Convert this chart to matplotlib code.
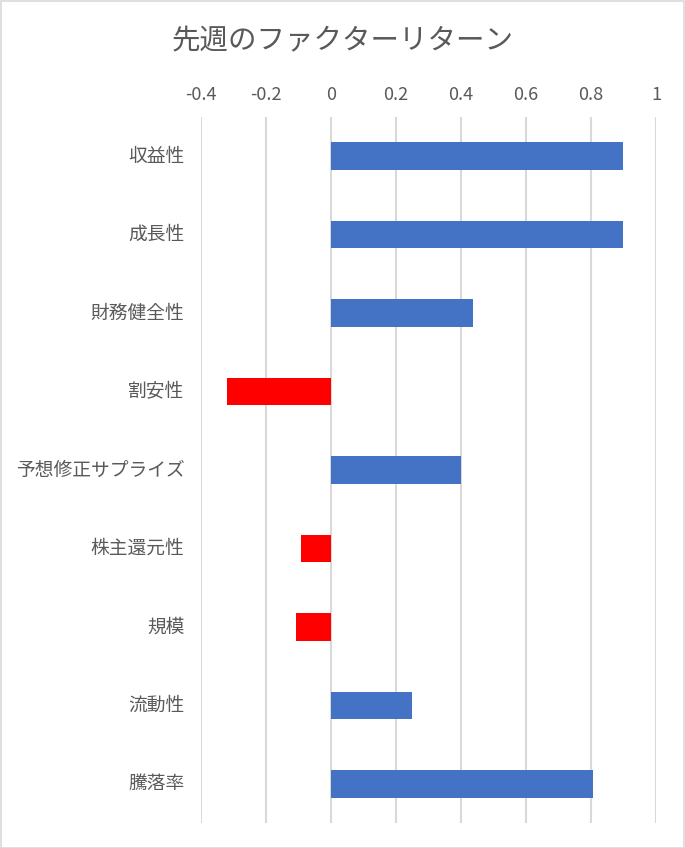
import matplotlib
matplotlib.use("Agg")
import matplotlib.pyplot as plt
from matplotlib.patches import Rectangle
from matplotlib.transforms import ScaledTranslation

plt.rcParams['font.family'] = ['Noto Sans CJK JP', 'DejaVu Sans']

categories = ["収益性", "成長性", "財務健全性", "割安性", "予想修正サプライズ",
              "株主還元性", "規模", "流動性", "騰落率"]
values = [0.898, 0.898, 0.436, -0.32, 0.399, -0.092, -0.107, 0.248, 0.805]
xticks = [-0.4, -0.2, 0, 0.2, 0.4, 0.6, 0.8, 1]
xticklabels = ["-0.4", "-0.2", "0", "0.2", "0.4", "0.6", "0.8", "1"]
title = "先週のファクターリターン"

pos_color = "#4472C4"
neg_color = "#FF0000"
text_color = "#595959"
grid_color = "#D9D9D9"

W, H = 685, 848
fig = plt.figure(figsize=(W / 100, H / 100), dpi=100)
ax = fig.add_axes([201 / W, 1 - 823 / H, 455 / W, (823 - 117) / H])

colors = [pos_color if v >= 0 else neg_color for v in values]
ypos = list(range(len(categories)))
ax.barh(ypos, values, height=0.35, color=colors, zorder=3)

ax.set_ylim(len(categories) - 0.5, -0.5)
ax.set_xlim(-0.4, 1.0)
ax.set_xticks(xticks)
ax.set_xticklabels(xticklabels)
ax.set_yticks(ypos)
ax.set_yticklabels(categories)

ax.xaxis.tick_top()
ax.tick_params(axis='x', length=0, pad=9.5, labelsize=13, labelcolor=text_color)
ax.tick_params(axis='y', length=0, pad=12, labelsize=13.5, labelcolor=text_color)

shift = ScaledTranslation(0, 2.5 / 100, fig.dpi_scale_trans)
for lbl in ax.get_yticklabels():
    lbl.set_transform(lbl.get_transform() + shift)

for s in ax.spines.values():
    s.set_visible(False)
ax.grid(axis='x', color=grid_color, linewidth=1.5, zorder=0)
ax.set_axisbelow(True)

fig.text(0.5, 1 - 41 / H, title, ha='center', va='center', fontsize=20.5,
         color=text_color)

fig.patches.append(Rectangle((0.5 / W, 0.5 / H), 1 - 1.5 / W, 1 - 1.5 / H,
                             transform=fig.transFigure, fill=False,
                             edgecolor=grid_color, linewidth=1.2))

fig.savefig("out.png", dpi=100, facecolor="white")
